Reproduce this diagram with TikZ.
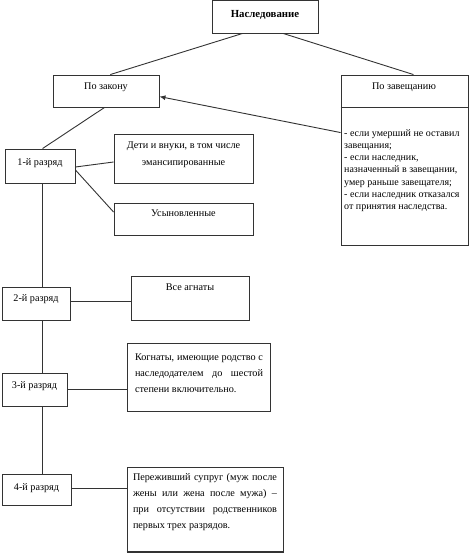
\documentclass[tikz,border=0pt]{standalone}
\usepackage{fontspec}
\setmainfont{Liberation Serif}
\usetikzlibrary{calc,arrows.meta}
\begin{document}
\begin{tikzpicture}[x=1pt,y=-1pt,
 box/.style={draw=black!80,line width=0.9pt,inner sep=0pt,rectangle},
 txt/.style={inner sep=0pt,font=\fontsize{10.2}{12}\selectfont},
 conn/.style={draw=black!80,line width=0.9pt}]
\useasboundingbox (0,0) rectangle (474,554);
% boxes
\node[box,minimum width=106,minimum height=32.5] (nasl) at (265,16.75) {};
\node[box,minimum width=106,minimum height=32] (zakon) at (106,91) {};
\node[box,minimum width=127,minimum height=170] (zav) at (404.5,160) {};
\node[box,minimum width=70,minimum height=34] (r1) at (40,166) {};
\node[box,minimum width=139,minimum height=49] (deti) at (183.5,158.5) {};
\node[box,minimum width=139,minimum height=32] (usyn) at (183.5,219) {};
\node[box,minimum width=68,minimum height=33] (r2) at (36,303.5) {};
\node[box,minimum width=118,minimum height=44] (agn) at (190,298) {};
\node[box,minimum width=65,minimum height=33] (r3) at (34.5,389.5) {};
\node[box,minimum width=143,minimum height=68] (kogn) at (198.5,377) {};
\node[box,minimum width=69,minimum height=31] (r4) at (36.5,489.5) {};
\node[box,minimum width=156,minimum height=85] (perezh) at (205,509.5) {};
\draw[conn,line width=2pt] (perezh.south west) -- (perezh.south east);
\draw[conn] ($(zav.north west)+(0,33)$) -- ($(zav.north east)+(0,33)$);
% texts
\node[txt,anchor=mid,font=\bfseries\fontsize{10.8}{12}\selectfont] (tnasl) at (265,15) {Наследование};
\node[txt,anchor=mid] (tzakon) at (106,87) {По закону};
\node[txt,anchor=mid] (tzav) at (404,87) {По завещанию};
\node[txt,anchor=west,align=left,font=\fontsize{10}{12.2}\selectfont] (tzavl) at (344,170.5)
 {- если умерший не оставил\\завещания;\\- если наследник,\\назначенный в завещании,\\умер раньше завещателя;\\- если наследник отказался\\от принятия наследства.};
\node[txt,anchor=mid] (tr1) at (40,163) {1-й разряд};
\node[txt,align=center,font=\fontsize{10.2}{17}\selectfont] (tdeti) at (183.5,154.5) {Дети и внуки, в том числе\\эмансипированные};
\node[txt,anchor=mid] (tusyn) at (183.5,214) {Усыновленные};
\node[txt,anchor=mid] (tr2) at (36,299) {2-й разряд};
\node[txt,anchor=mid] (tagn) at (190,288) {Все агнаты};
\node[txt,anchor=mid] (tr3) at (34.5,386) {3-й разряд};
\node[txt,align=left,font=\fontsize{10.2}{16}\selectfont] (tkogn) at (199,373)
 {\makebox[128pt][s]{Когнаты, имеющие родство с}\\\makebox[128pt][s]{наследодателем до шестой}\\\makebox[128pt][l]{степени включительно.}};
\node[txt,anchor=mid] (tr4) at (36.5,488) {4-й разряд};
\node[txt,align=left,font=\fontsize{10.2}{16}\selectfont] (tperezh) at (205,502)
 {\makebox[144pt][s]{Переживший супруг (муж после}\\\makebox[144pt][s]{жены или жена после мужа) –}\\\makebox[144pt][s]{при отсутствии родственников}\\\makebox[144pt][l]{первых трех разрядов.}};
% connectors
\draw[conn] ($(nasl.south west)!0.29!(nasl.south east)$) -- ($(zakon.north west)!0.54!(zakon.north east)$);
\draw[conn] ($(nasl.south west)!0.67!(nasl.south east)$) -- ($(zav.north west)!0.57!(zav.north east)$);
\draw[conn,-{Latex[length=6pt,width=5pt]}] ($(zav.north west)+(0,58)$) -- ($(zakon.north east)+(0,22)$);
\draw[conn] ($(zakon.south west)+(52,0)$) -- ($(r1.north west)+(38,0)$);
\draw[conn] ($(r1.east)+(0,1)$) -- ($(deti.west)+(0,3.5)$);
\draw[conn] ($(r1.east)+(0,4)$) -- ($(usyn.west)+(0,-7)$);
\draw[conn] ($(r1.south west)+(38,0)$) -- ($(r2.north west)+(41,0)$);
\draw[conn] ($(r2.south west)+(41,0)$) -- ($(r3.north west)+(41,0)$);
\draw[conn] ($(r3.south west)+(41,0)$) -- ($(r4.north west)+(41,0)$);
\draw[conn] ($(r2.east)+(0,-2.5)$) -- ($(agn.west)+(0,3)$);
\draw[conn] (r3.east) -- (r3.east -| kogn.west);
\draw[conn] ($(r4.east)+(0,-1.5)$) -- ($(r4.east -| perezh.west)+(0,-1.5)$);
\end{tikzpicture}
\end{document}
